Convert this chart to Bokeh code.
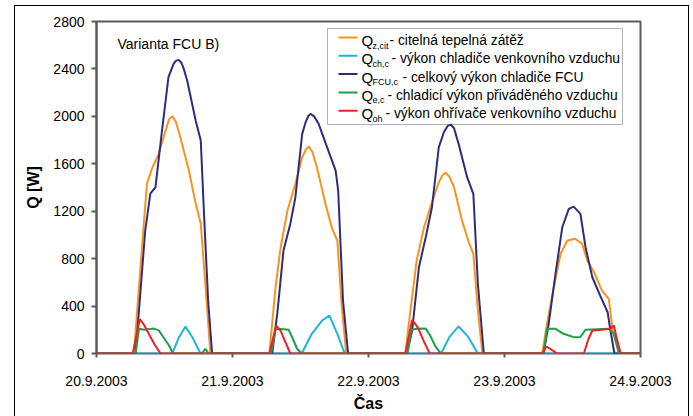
from bokeh.plotting import figure
from bokeh.models import Range1d, FixedTicker, BoxAnnotation, Spacer
from bokeh.layouts import row, column
from bokeh.embed import file_html
from bokeh.resources import INLINE
from bokeh.core.properties import value

# ---------------- data ----------------
date_hours = [0, 24, 48, 72, 96]
date_labels = ["20.9.2003", "21.9.2003", "22.9.2003", "23.9.2003", "24.9.2003"]
y_ticks = [0, 400, 800, 1200, 1600, 2000, 2400, 2800]

# Q_z,cit  (orange)
h_z = [0, 6.6, 7.76, 8.9, 9.8, 11.0, 12.2, 12.8, 13.4, 14.0, 14.8, 16.3, 17.5, 18.4, 19.2, 20.1,
       30.5, 31.6, 32.5, 33.7, 35.1, 36.3, 37.0, 37.5, 38.1, 38.9, 40.4, 41.6, 42.5, 43.2, 44.05,
       54.5, 55.4, 56.5, 57.8, 59.2, 60.4, 61.1, 61.6, 62.3, 63.1, 64.5, 65.7, 66.5, 67.3, 68.1,
       78.65, 79.5, 80.7, 81.9, 83.1, 84.5, 85.7, 86.6, 87.8, 89.2, 90.4, 91.1, 92.2, 96]
q_z = [0, 0, 728, 1433, 1560, 1686, 1880, 1975, 2000, 1955, 1824, 1543, 1265, 1096, 590, 0,
       0, 559, 896, 1206, 1431, 1655, 1725, 1745, 1700, 1571, 1262, 1051, 953, 447, 0,
       0, 363, 784, 1065, 1276, 1444, 1505, 1525, 1490, 1402, 1121, 938, 841, 363, 0,
       0, 250, 559, 841, 953, 967, 925, 784, 686, 531, 461, 194, 0, 0]

# Q_ch,c (cyan)
h_ch = [0, 13.35, 14.5, 15.7, 17.0, 18.35,
        36.2, 38.0, 39.8, 41.1, 42.5, 43.8,
        60.8, 62.3, 63.9, 65.6, 67.3, 96]
q_ch = [0, 0, 130, 228, 130, 0,
        0, 166, 278, 320, 166, 0,
        0, 140, 228, 140, 0, 0]

# Q_FCU,c (navy)
h_fcu = [0, 6.9, 7.4, 8.6, 9.5, 10.4, 11.5, 12.7, 13.6, 14.0, 14.5, 15.0, 15.4, 16.0, 17.5, 18.4, 19.0, 19.7, 20.4,
         31.0, 31.9, 33.0, 34.2, 35.1, 36.3, 36.9, 37.4, 37.76, 38.4, 39.2, 40.7, 42.2, 42.65, 43.5, 44.4,
         54.8, 55.7, 56.9, 58.1, 59.2, 60.4, 61.3, 62.0, 62.5, 63.1, 63.9, 65.4, 66.5, 67.3, 68.35,
         78.9, 79.8, 81.0, 82.2, 83.35, 84.2, 85.4, 86.3, 87.5, 89.0, 90.2, 90.7, 91.4, 96]
q_fcu = [0, 0, 306, 1037, 1349, 1402, 1855, 2330, 2443, 2468, 2476, 2450, 2400, 2302, 1965, 1796, 1150, 447, 0,
         0, 334, 868, 1093, 1318, 1852, 1950, 2005, 2021, 2000, 1937, 1739, 1543, 1374, 447, 0,
         0, 194, 728, 981, 1234, 1739, 1866, 1920, 1931, 1900, 1768, 1487, 1347, 588, 0,
         0, 250, 672, 1065, 1220, 1239, 1178, 896, 643, 475, 348, 194, 0, 0]

# Q_e,c (green)
h_e = [0, 6.9, 7.5, 8.4, 10.1, 11.0, 11.6, 12.8, 13.5, 18.6, 19.2, 19.8,
       30.8, 31.6, 32.1, 33.9, 34.5, 35.4, 36.2,
       54.8, 55.6, 56.5, 58.1, 58.9, 59.8, 60.8,
       78.9, 79.5, 81.0, 82.4, 84.2, 85.4, 86.3, 90.4, 91.3, 92.2, 96]
q_e = [0, 0, 208, 200, 210, 195, 152, 67, 0, 0, 40, 0,
       0, 200, 208, 200, 140, 40, 0,
       0, 200, 208, 210, 150, 60, 0,
       0, 208, 208, 166, 138, 140, 200, 208, 166, 0, 0]

# Q_oh (red)
h_oh = [0, 6.4, 7.65, 8.4, 9.2, 10.2, 11.3,
        30.5, 31.7, 32.5, 33.4, 34.2,
        54.5, 55.7, 56.7, 57.8, 58.8,
        78.65, 79.4, 80.2, 81.3, 86.0, 86.8, 87.5, 89.2, 90.7, 91.3, 91.7, 92.5, 96]
q_oh = [0, 0, 290, 240, 168, 80, 0,
        0, 236, 190, 90, 0,
        0, 284, 220, 100, 0,
        0, 59, 35, 0, 0, 120, 194, 200, 208, 236, 150, 0, 0]

legend_sub = ["z,cit", "ch,c", "FCU,c", "e,c", "oh"]
legend_desc = ["- citelná tepelná zátěž",
               "- výkon chladiče venkovního vzduchu",
               "- celkový výkon chladiče FCU",
               "- chladicí výkon přiváděného vzduchu",
               "- výkon ohřívače venkovního vzduchu"]
colors = ["#F7941D", "#1DB5D8", "#2E2D7C", "#1BA04A", "#EE2128"]
variant_text = "Varianta FCU B)"

# ---------------- layout ----------------
FONT = "Liberation Sans"
FIG_X, FIG_Y = 15, 6          # page position of the canvas
FL, FR, FT, FB = 96, 640, 21, 353   # frame in page px
W, H = 673, 410

p = figure(width=W, height=H, x_range=Range1d(0, 96), y_range=Range1d(0, 2800),
           output_backend="svg", toolbar_location=None,
           min_border_left=FL - FIG_X, min_border_right=FIG_X + W - FR,
           min_border_top=FT - FIG_Y, min_border_bottom=FIG_Y + H - FB)
p.styles = {"outline": "1px solid black"}
p.background_fill_color = "white"
p.border_fill_color = "white"
p.outline_line_color = "#5a5a5a"
p.outline_line_width = 2
p.xgrid.visible = False
p.ygrid.visible = False

def hx(px):
    return (px - FL) * 96.0 / (FR - FL)

def wy(py):
    return (FB - py) * 2800.0 / (FB - FT)

# axes
p.xaxis.ticker = FixedTicker(ticks=date_hours)
p.xaxis.major_label_overrides = {h: d for h, d in zip(date_hours, date_labels)}
p.yaxis.ticker = FixedTicker(ticks=y_ticks)
for ax in (p.xaxis[0], p.yaxis[0]):
    ax.major_label_text_font = FONT
    ax.major_label_text_font_size = "14px"
    ax.major_label_text_color = "black"
    ax.major_tick_in = 0
    ax.minor_tick_line_color = None
    ax.major_tick_line_color = "#5a5a5a"
    ax.major_tick_line_width = 2
    ax.axis_label_text_font = FONT
    ax.axis_label_text_font_style = "bold"
    ax.axis_label_text_font_size = "16px"
    ax.axis_label_text_color = "black"
p.xaxis.major_tick_out = 4
p.yaxis.major_tick_out = 5
p.xaxis.axis_line_color = None
p.yaxis.axis_line_color = "#5a5a5a"
p.yaxis.axis_line_width = 2
p.xaxis.major_label_standoff = 18
p.yaxis.major_label_standoff = 7
p.xaxis.axis_label = "Čas"
p.yaxis.axis_label = "Q [W]"
p.xaxis.axis_label_standoff = 6
p.yaxis.axis_label_standoff = 8

# legend box (under the curves)
LX0, LX1, LY0, LY1 = 327, 622, 28, 124
p.add_layout(BoxAnnotation(left=hx(LX0), right=hx(LX1), top=wy(LY0), bottom=wy(LY1),
                           fill_color="white", fill_alpha=1.0,
                           line_color="black", line_width=1, level="underlay"))

# series
series = [(h_z, q_z), (h_ch, q_ch), (h_fcu, q_fcu), (h_e, q_e), (h_oh, q_oh)]
for (hh, qq), c in zip(series, colors):
    p.line(hh, qq, line_color=c, line_width=2)

# variant label
p.text([hx(117)], [wy(43)], text=[variant_text], text_font=value(FONT),
       text_font_size="14px", text_baseline="middle", text_align="left", text_color="black")

# legend entries (manual, to allow subscripts)
row_y = [37 + 18.3 * i for i in range(5)]
desc_x = [389, 391, 402, 387, 385]
p.segment(x0=[hx(338)] * 5, x1=[hx(357)] * 5, y0=[wy(y) for y in row_y], y1=[wy(y) for y in row_y],
          line_color=colors, line_width=2)
p.text([hx(361)] * 5, [wy(y + 3) for y in row_y], text=["Q"] * 5, text_font=value(FONT),
       text_font_size="15px", text_baseline="middle", text_color="black")
p.text([hx(372)] * 5, [wy(y + 8) for y in row_y], text=legend_sub, text_font=value(FONT),
       text_font_size="9px", text_baseline="middle", text_color="black")
p.text([hx(x) for x in desc_x], [wy(y + 3) for y in row_y], text=legend_desc, text_font=value(FONT),
       text_font_size="13.8px", text_baseline="middle", text_color="black")

layout = column(Spacer(width=W, height=FIG_Y),
                row(Spacer(width=FIG_X, height=H), p))
open("out.html", "w").write(file_html(layout, INLINE))
